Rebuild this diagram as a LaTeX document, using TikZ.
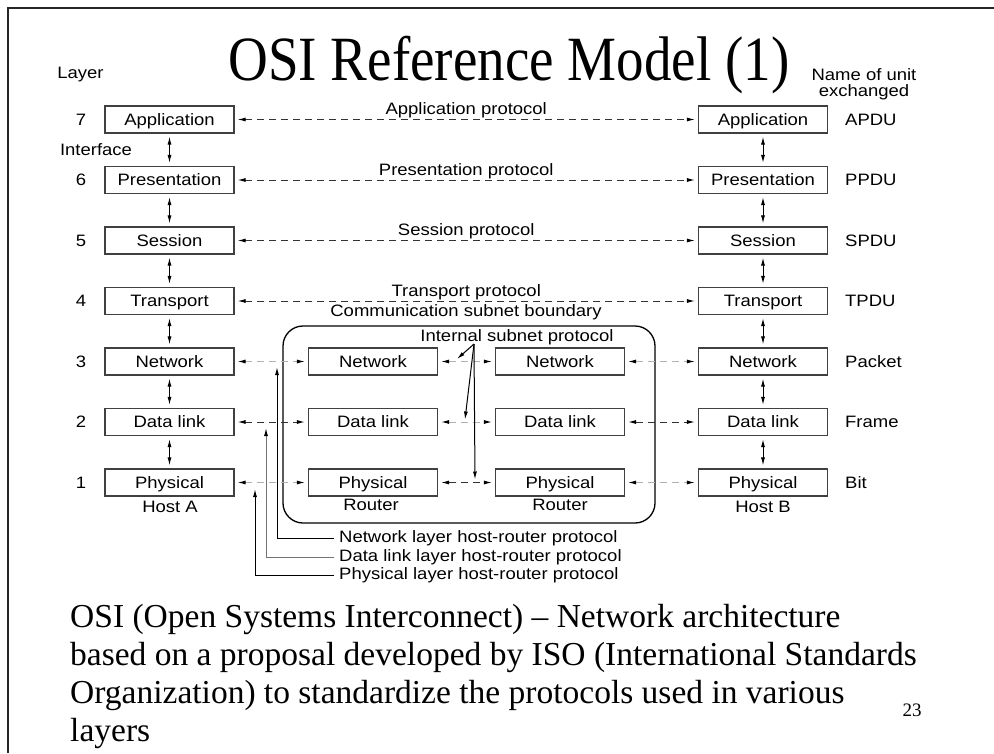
\documentclass[tikz,border=0pt]{standalone}
\usepackage{fontspec}
\setmainfont{Liberation Serif}
\newfontfamily\diagfam[FakeStretch=1.12]{Liberation Sans}
\newfontfamily\titlefam[FakeStretch=0.874]{Liberation Serif}
\usetikzlibrary{arrows.meta,calc}
\newcommand\dgfont{\diagfam\fontsize{16.5}{18}\selectfont}
\begin{document}
\begin{tikzpicture}[x=1pt,y=-1pt,
  box/.style={draw=black!75, line width=1.1pt, minimum width=129pt, minimum height=27pt, inner sep=0pt, text height=11.8pt, text depth=0pt, font=\dgfont},
  lbl/.style={font=\dgfont, inner sep=0pt},
  tipA/.style={-{Latex[length=8pt,width=4pt,color=black]}, line width=1pt},
  dbl/.style={{Latex[length=8pt,width=4pt,color=black]}-{Latex[length=8pt,width=4pt,color=black]}, line width=1pt, shorten >=3pt, shorten <=3pt},
  dline/.style={dbl, dash pattern=on 7pt off 5pt, draw=black!80},
  gline/.style={dbl, dash pattern=on 7pt off 5pt, draw=black!30},
  btext/.style={font=\fontsize{33.5}{37}\selectfont, inner sep=0pt, anchor=base west}
]
\useasboundingbox (0,0) rectangle (994,753);
\fill[white] (0,0) rectangle (994,753);
% frame
\draw[line width=1.8pt, black!85] (994,8) -- (8,8) -- (8,753);
% title
\node[font=\titlefam\fontsize{63}{70}\selectfont, anchor=base, inner sep=0pt] (title) at (509,80) {OSI Reference Model (1)};
\node[lbl] (layer) at (80.5,75) {Layer};
\node[lbl, align=center, font=\diagfam\fontsize{16.5}{16}\selectfont] (unitname) at (864,84) {Name of unit\\exchanged};
\node[lbl] (iface) at (96,150) {Interface};
% boxes
\foreach \k/\y/\t/\u in {7/119.5/Application/APDU, 6/180/Presentation/PPDU, 5/240.5/Session/SPDU, 4/301/Transport/TPDU, 3/361.5/Network/Packet, 2/422/Data link/Frame, 1/482.5/Physical/Bit}{
  \node[box] (a\k) at (169.5,\y) {\t};
  \node[box] (b\k) at (763,\y) {\t};
  \node[lbl] (n\k) at (81,\y) {\k};
  \node[lbl, anchor=west] (u\k) at (845,\y) {\u};
}
\foreach \k/\y/\t in {3/361.5/Network, 2/422/Data link, 1/482.5/Physical}{
  \node[box] (r\k) at (373,\y) {\t};
  \node[box] (s\k) at (560,\y) {\t};
}
% vertical interfaces
\foreach \k/\j in {7/6,6/5,5/4,4/3,3/2,2/1}{
  \draw[dbl] (a\k) -- (a\j);
  \draw[dbl] (b\k) -- (b\j);
}
% peer protocols
\draw[dline] (a7) -- node[lbl, above, inner sep=1pt] (p7) {Application protocol} (b7);
\draw[dline] (a6) -- node[lbl, above, inner sep=1pt] (p6) {Presentation protocol} (b6);
\draw[dline] (a5) -- node[lbl, above, inner sep=1pt] (p5) {Session protocol} (b5);
\draw[dline] (a4) -- node[lbl, above, inner sep=1pt] (p4) {Transport protocol} (b4);
% subnet boundary
\draw[line width=1.3pt, rounded corners=20pt] (283,326) rectangle (655,523);
\node[lbl] (csb) at (466,312) {Communication subnet boundary};
\node[lbl] (isp) at (517,337) {Internal subnet protocol};
% host-router and router-router
\draw[gline] (a3) -- (r3);
\draw[dline] (a2) -- (r2);
\draw[gline] (a1) -- (r1);
\draw[gline] (r3) -- (s3);
\draw[gline] (r2) -- (s2);
\draw[dline] (r1) -- (s1);
\draw[gline] (s3) -- (b3);
\draw[dline] (s2) -- (b2);
\draw[gline] (s1) -- (b1);
% host / router labels
\node[lbl] (hostA) at (170,507) {Host A};
\node[lbl] (rt1) at (371,505) {Router};
\node[lbl] (rt2) at (560,505) {Router};
\node[lbl] (hostB) at (763,507) {Host B};
% internal subnet protocol pointers
\coordinate (ispo) at (474,344);
\coordinate (t3) at (457,359);
\coordinate (t2) at (465,419.5);
\coordinate (t1) at (475,479.5);
\draw[tipA] (ispo) -- (t3);
\draw[tipA] (ispo) -- (t2);
\draw[tipA] (ispo) -- (t1);
% host-router protocol callouts
\node[lbl, anchor=west] (hr3) at (339,538) {Network layer host-router protocol};
\node[lbl, anchor=west] (hr2) at (339,557) {Data link layer host-router protocol};
\node[lbl, anchor=west] (hr1) at (339,575) {Physical layer host-router protocol};
\coordinate (h3) at (277,367);
\coordinate (h2) at (266,428);
\coordinate (h1) at (255,489);
\draw[tipA, shorten <=5pt] (hr3.west) -| (h3);
\draw[tipA, shorten <=5pt, draw=black!55] (hr2.west) -| (h2);
\draw[tipA, shorten <=5pt] (hr1.west) -| (h1);
% bottom text
\node[btext] (bl1) at (70,627) {OSI (Open Systems Interconnect) – Network architecture};
\node[btext] (bl2) at (70,665) {based on a proposal developed by ISO (International Standards};
\node[btext] (bl3) at (70,703) {Organization) to standardize the protocols used in various};
\node[btext] (bl4) at (70,741) {layers};
\node[font=\fontsize{19}{20}\selectfont, inner sep=0pt, anchor=base] (pg) at (912,716) {23};
\end{tikzpicture}
\end{document}
